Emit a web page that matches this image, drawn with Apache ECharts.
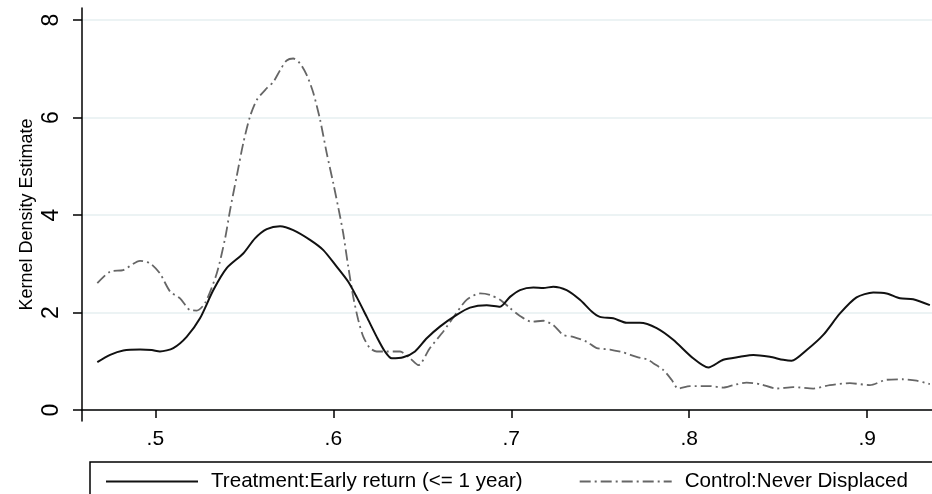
<!DOCTYPE html>
<html>
<head>
<meta charset="utf-8">
<script src="https://cdn.jsdelivr.net/npm/echarts@6/dist/echarts.min.js"></script>
<style>
  html, body { margin: 0; padding: 0; background: #ffffff; }
  #chart { width: 932px; height: 494px; }
</style>
</head>
<body>
<div id="chart"></div>
<script>
// Kernel density estimates: early returnees vs. never displaced
const treatX = [0.4674, 0.4746, 0.4820, 0.4914, 0.4980, 0.5026, 0.5101, 0.5176, 0.5251, 0.5326,
  0.5401, 0.5494, 0.5560, 0.5626, 0.5701, 0.5775, 0.5869, 0.5944, 0.6019, 0.6084,
  0.6131, 0.6188, 0.6244, 0.6290, 0.6328, 0.6393, 0.6459, 0.6525, 0.6599, 0.6693,
  0.6768, 0.6862, 0.6937, 0.6993, 0.7049, 0.7124, 0.7180, 0.7236, 0.7311, 0.7386,
  0.7452, 0.7498, 0.7573, 0.7648, 0.7723, 0.7817, 0.7910, 0.8022, 0.8107, 0.8191,
  0.8285, 0.8360, 0.8453, 0.8528, 0.8575, 0.8660, 0.8753, 0.8847, 0.8940, 0.9034,
  0.9109, 0.9184, 0.9258, 0.9352];
const treatY = [0.98, 1.13, 1.22, 1.24, 1.23, 1.20, 1.27, 1.50, 1.88, 2.46,
  2.91, 3.21, 3.52, 3.71, 3.77, 3.69, 3.49, 3.28, 2.94, 2.63,
  2.32, 1.91, 1.50, 1.20, 1.06, 1.08, 1.20, 1.47, 1.71, 1.95,
  2.10, 2.15, 2.12, 2.32, 2.46, 2.51, 2.50, 2.53, 2.46, 2.26,
  2.02, 1.91, 1.88, 1.79, 1.79, 1.68, 1.44, 1.06, 0.87, 1.03,
  1.09, 1.13, 1.09, 1.03, 1.01, 1.23, 1.54, 1.98, 2.31, 2.41,
  2.39, 2.29, 2.27, 2.15];

const ctrlX = [0.4674, 0.4746, 0.4820, 0.4914, 0.4970, 0.5026, 0.5083, 0.5139, 0.5195, 0.5233,
  0.5279, 0.5345, 0.5392, 0.5420, 0.5457, 0.5494, 0.5532, 0.5570, 0.5626, 0.5663,
  0.5701, 0.5738, 0.5775, 0.5813, 0.5851, 0.5888, 0.5926, 0.5963, 0.6000, 0.6038,
  0.6056, 0.6084, 0.6112, 0.6140, 0.6169, 0.6206, 0.6244, 0.6300, 0.6375, 0.6431,
  0.6478, 0.6543, 0.6618, 0.6684, 0.6749, 0.6824, 0.6880, 0.6937, 0.6993, 0.7049,
  0.7115, 0.7180, 0.7236, 0.7292, 0.7348, 0.7424, 0.7480, 0.7555, 0.7629, 0.7704,
  0.7770, 0.7798, 0.7854, 0.7901, 0.7938, 0.8004, 0.8116, 0.8191, 0.8247, 0.8322,
  0.8397, 0.8491, 0.8584, 0.8697, 0.8790, 0.8903, 0.9015, 0.9109, 0.9202, 0.9278,
  0.9352];
const ctrlY = [2.60, 2.84, 2.87, 3.06, 3.01, 2.80, 2.43, 2.29, 2.05, 2.04,
  2.19, 2.80, 3.52, 4.10, 4.79, 5.47, 6.02, 6.36, 6.60, 6.73,
  6.97, 7.17, 7.21, 7.11, 6.87, 6.50, 5.95, 5.27, 4.65, 3.97,
  3.62, 2.94, 2.32, 1.85, 1.50, 1.27, 1.20, 1.20, 1.20, 1.06,
  0.92, 1.27, 1.61, 1.95, 2.26, 2.39, 2.36, 2.26, 2.09, 1.93,
  1.81, 1.83, 1.74, 1.54, 1.50, 1.40, 1.27, 1.24, 1.18, 1.09,
  1.03, 0.96, 0.82, 0.62, 0.44, 0.49, 0.49, 0.46, 0.51, 0.56,
  0.53, 0.44, 0.47, 0.44, 0.51, 0.55, 0.51, 0.62, 0.63, 0.60,
  0.53];

const xTicks = [0.5, 0.6, 0.7, 0.8, 0.9];
const yTicks = [0, 2, 4, 6, 8];
const seriesNames = ['Treatment:Early return (<= 1 year)', 'Control:Never Displaced'];

const FONT = "'Liberation Sans', Arial, Helvetica, sans-serif";

const pairs = (xs, ys) => xs.map((x, i) => [x, ys[i]]);

const chart = echarts.init(document.getElementById('chart'), null, { renderer: 'canvas' });

chart.setOption({
  backgroundColor: '#ffffff',
  animation: false,
  textStyle: { fontFamily: FONT },
  grid: { left: 82, right: 0, top: 8, bottom: 73, containLabel: false },
  xAxis: {
    type: 'value',
    min: 0.4588,
    max: 0.9364,
    axisLine: { show: true, lineStyle: { color: '#000', width: 1.5 } },
    axisTick: { show: true, length: 8, customValues: xTicks, lineStyle: { color: '#000', width: 1.5 } },
    axisLabel: {
      customValues: xTicks,
      margin: 8,
      fontSize: 21,
      color: '#000',
      fontFamily: FONT,
      formatter: v => String(Math.round(v * 10) / 10).replace(/^0/, '')
    },
    splitLine: { show: false }
  },
  yAxis: {
    type: 'value',
    min: -0.226,
    max: 8.246,
    name: 'Kernel Density Estimate',
    nameLocation: 'middle',
    nameRotate: 90,
    nameGap: 46,
    nameMoveOverlap: false,
    nameTextStyle: { fontSize: 18, color: '#000', fontFamily: FONT },
    axisLine: { show: true, lineStyle: { color: '#000', width: 1.5 } },
    axisTick: { show: true, length: 9, customValues: yTicks, lineStyle: { color: '#000', width: 1.5 } },
    axisLabel: {
      customValues: yTicks,
      rotate: 90,
      margin: 19,
      fontSize: 23,
      color: '#000',
      fontFamily: FONT
    },
    splitLine: { show: false }
  },
  legend: {
    left: 100,
    top: 466,
    itemWidth: 92,
    itemHeight: 14,
    itemGap: 56,
    itemStyle: { opacity: 0 },
    textStyle: { fontSize: 20.6, color: '#000', fontFamily: FONT, padding: [0, 0, 0, 8] },
    data: seriesNames
  },
  graphic: [{
    type: 'rect',
    shape: { x: 90, y: 462, width: 900, height: 80 },
    style: { fill: 'none', stroke: '#000', lineWidth: 1.5 },
    silent: true
  }],
  series: [
    {
      name: seriesNames[0],
      type: 'line',
      data: pairs(treatX, treatY),
      smooth: 0.25,
      symbol: 'none',
      lineStyle: { color: '#111', width: 2 },
      itemStyle: { color: '#111' },
      z: 3,
      markLine: {
        silent: true,
        symbol: 'none',
        label: { show: false },
        lineStyle: { color: '#e6eff0', width: 1.5, type: 'solid' },
        data: yTicks.map(v => ({ yAxis: v })),
        z: 0
      }
    },
    {
      name: seriesNames[1],
      type: 'line',
      data: pairs(ctrlX, ctrlY),
      smooth: 0.25,
      symbol: 'none',
      lineStyle: { color: '#666', width: 1.8, type: [11, 4, 2, 4] },
      itemStyle: { color: '#666' },
      z: 2
    }
  ]
});
</script>
</body>
</html>
